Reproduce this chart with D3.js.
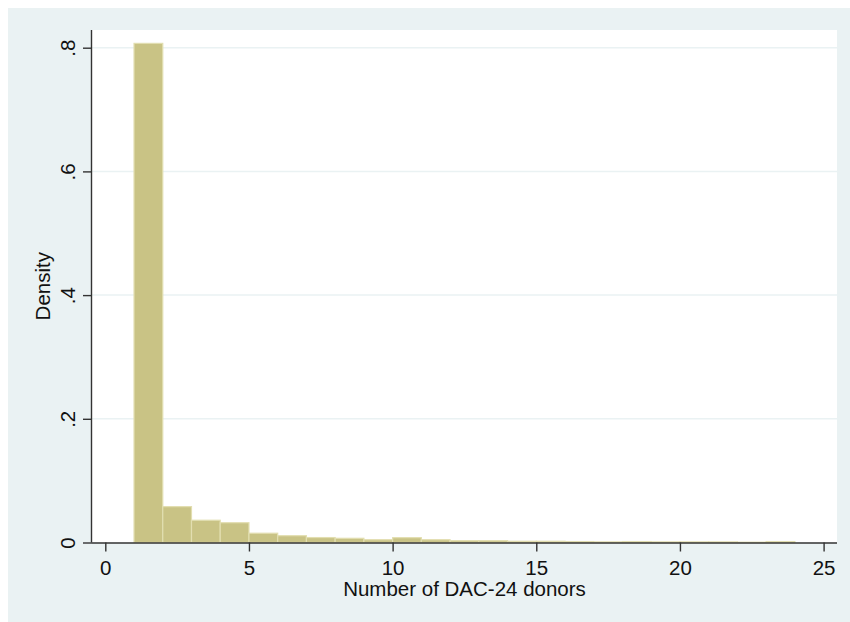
<!DOCTYPE html>
<html>
<head>
<meta charset="utf-8">
<script src="https://cdn.jsdelivr.net/npm/d3@7"></script>
<style>
  html, body { margin: 0; padding: 0; background: #ffffff; }
  svg { display: block; }
  text { font-family: "Liberation Sans", Arial, sans-serif; fill: #111; }
</style>
</head>
<body>
<svg id="chart" width="850" height="622"></svg>
<script>
// Histogram bins (left edges, width 1) and density values
const binStarts = [1,2,3,4,5,6,7,8,9,10,11,12,13,14,15,16,17,18,19,20,21,22,23,24];
const densities = [0.807,0.058,0.036,0.032,0.015,0.011,0.008,0.0068,0.0045,0.0078,0.0045,0.003,0.003,0.002,0.002,0.0015,0.001,0.0015,0.001,0.001,0.001,0.0005,0.0015,0];
const binWidth = 1;
const xTicks = [0,5,10,15,20,25];
const yTicks = [0,0.2,0.4,0.6,0.8];
const yTickLabels = ["0",".2",".4",".6",".8"];
const xTitle = "Number of DAC-24 donors";
const yTitle = "Density";

const svg = d3.select("#chart");
const W = 850, H = 622;

// graph region background
svg.append("rect").attr("x", 8).attr("y", 8).attr("width", W - 8).attr("height", H - 8)
  .attr("fill", "#eaf2f3");

// plot region
const plot = { left: 92, right: 837, top: 30, bottom: 542.5 };
svg.append("rect").attr("x", plot.left).attr("y", plot.top)
  .attr("width", plot.right - plot.left).attr("height", plot.bottom - plot.top)
  .attr("fill", "#ffffff");

const x = d3.scaleLinear().domain([0, 25]).range([105.3, 823.6]);
const y = d3.scaleLinear().domain([0, 0.8]).range([542.5, 47.7]);

// gridlines
svg.append("g").selectAll("line").data(yTicks.filter(d => d > 0)).join("line")
  .attr("x1", plot.left).attr("x2", plot.right)
  .attr("y1", d => y(d)).attr("y2", d => y(d))
  .attr("stroke", "#eaf2f3").attr("stroke-width", 1.5);

// bars
const data = binStarts.map((b, i) => ({ x0: b, x1: b + binWidth, v: densities[i] }));
svg.append("g").selectAll("rect").data(data.filter(d => d.v > 0)).join("rect")
  .attr("x", d => x(d.x0))
  .attr("y", d => y(d.v))
  .attr("width", d => x(d.x1) - x(d.x0))
  .attr("height", d => y(0) - y(d.v))
  .attr("fill", "#c9c385")
  .attr("stroke", "#e2deb0")
  .attr("stroke-width", 1.2);

// x axis
const xAxis = d3.axisBottom(x).tickValues(xTicks).tickSize(9).tickPadding(6).tickFormat(d3.format("d"));
const gx = svg.append("g").attr("transform", `translate(0,${plot.bottom})`).call(xAxis);
gx.select(".domain").attr("d", `M${plot.left},0.5H${plot.right}`).attr("stroke", "#333").attr("stroke-width", 1.4);
gx.selectAll(".tick line").attr("stroke", "#333").attr("stroke-width", 1.4);
gx.selectAll(".tick text").attr("font-size", "20.5px").attr("font-family", "Liberation Sans, Arial, sans-serif")
  .attr("fill", "#111").attr("dy", null).attr("y", 32.5).attr("dominant-baseline", "alphabetic");

// y axis
const yAxis = d3.axisLeft(y).tickValues(yTicks).tickSize(9).tickFormat((d, i) => yTickLabels[i]);
const gy = svg.append("g").attr("transform", `translate(${plot.left},0)`).call(yAxis);
gy.select(".domain").attr("d", `M-0.5,${plot.top}V${plot.bottom}`).attr("stroke", "#333").attr("stroke-width", 1.4);
gy.selectAll(".tick line").attr("stroke", "#333").attr("stroke-width", 1.4);
gy.selectAll(".tick text")
  .attr("font-size", "20.5px").attr("font-family", "Liberation Sans, Arial, sans-serif").attr("fill", "#111")
  .attr("x", null).attr("dy", null)
  .attr("text-anchor", "middle")
  .attr("transform", "translate(-17,0) rotate(-90)");

// axis titles
svg.append("text").attr("x", (plot.left + plot.right) / 2).attr("y", 596)
  .attr("text-anchor", "middle").attr("font-size", "20.5px").text(xTitle);
svg.append("text").attr("transform", `translate(50,${(plot.top + plot.bottom) / 2}) rotate(-90)`)
  .attr("text-anchor", "middle").attr("font-size", "20.5px").text(yTitle);
</script>
</body>
</html>
